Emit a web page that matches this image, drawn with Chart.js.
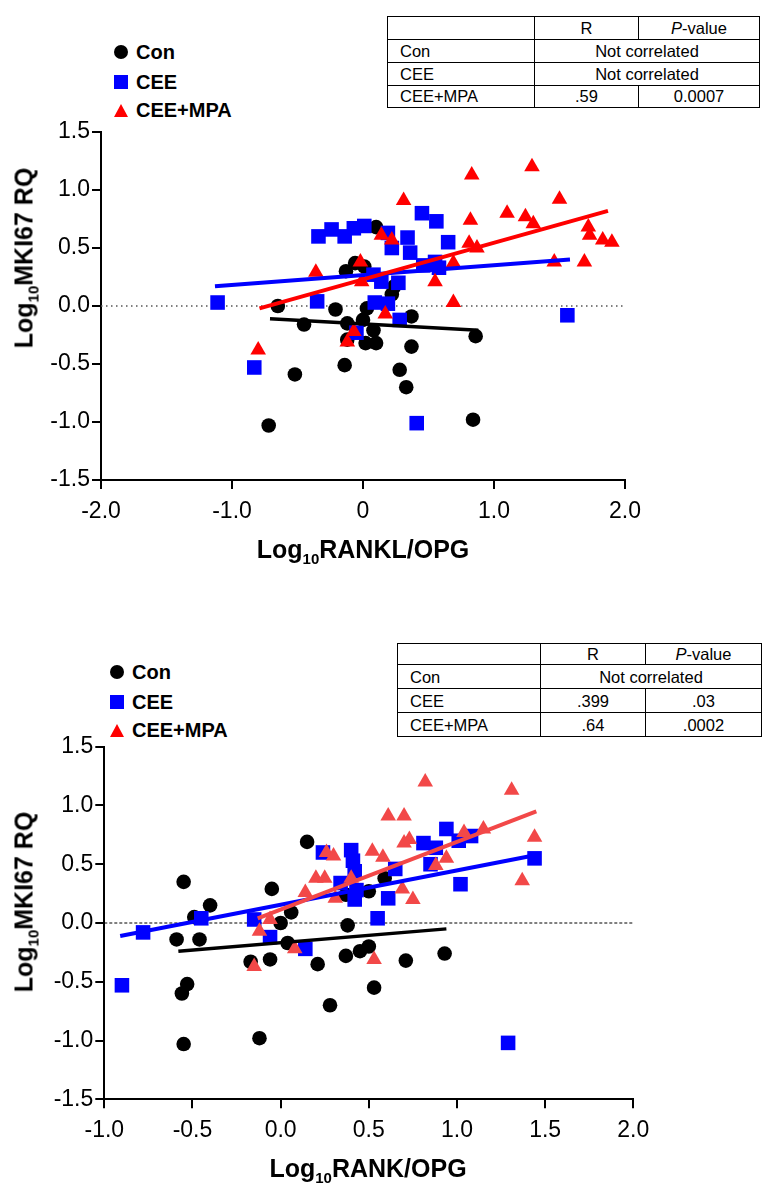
<!DOCTYPE html>
<html>
<head>
<meta charset="utf-8">
<script src="https://cdn.jsdelivr.net/npm/chart.js@4.4.1/dist/chart.umd.min.js"></script>
<style>
body{margin:0;width:763px;height:1191px;position:relative;overflow:hidden;background:#fff;color:#000;font-family:"Liberation Sans",Arial,Helvetica,sans-serif}
canvas{position:absolute;left:0}
.lg{position:absolute;height:20px;display:flex;align-items:center;font-weight:bold;font-size:20px;line-height:20px;white-space:nowrap}
.lg i{display:inline-block;margin-right:8px}
.dot{width:14px;height:14px;border-radius:50%;background:#000}
.sq{width:14px;height:14px;background:#0000ff}
.tri{width:0;height:0;border-left:7.5px solid transparent;border-right:7.5px solid transparent;border-bottom:13px solid #ff0000}
table{position:absolute;border-collapse:collapse;font-size:16.5px;table-layout:fixed}
td{border:1.5px solid #000;padding:0;text-align:center;white-space:nowrap;line-height:18px}
td.n{text-align:left;padding-left:12px}
.xt{position:absolute;font-weight:bold;font-size:25px;white-space:nowrap;transform:translate(-50%,-50%)}
.yt{position:absolute;font-weight:bold;font-size:25px;white-space:nowrap;transform:translate(-50%,-50%) rotate(-90deg)}
sub{font-size:15px;vertical-align:-6px;line-height:0}
</style>
</head>
<body>

<div class="lg" style="left:114px;top:42px"><i class="dot"></i>Con</div>
<div class="lg" style="left:114px;top:72px"><i class="sq"></i>CEE</div>
<div class="lg" style="left:114px;top:100px"><i class="tri"></i>CEE+MPA</div>

<table style="left:387px;top:16px;width:372px">
<colgroup><col style="width:147px"><col style="width:104px"><col style="width:121px"></colgroup>
<tr style="height:22.5px"><td></td><td>R</td><td><i>P</i>-value</td></tr>
<tr style="height:23px"><td class="n">Con</td><td colspan="2">Not correlated</td></tr>
<tr style="height:23px"><td class="n">CEE</td><td colspan="2">Not correlated</td></tr>
<tr style="height:22.5px"><td class="n">CEE+MPA</td><td>.59</td><td>0.0007</td></tr>
</table>

<canvas id="top" width="763" height="460" style="top:110px"></canvas>
<div class="yt" style="left:24px;top:258px">Log<sub>10</sub>MKI67 RQ</div>
<div class="xt" style="left:363px;top:549px">Log<sub>10</sub>RANKL/OPG</div>

<div class="lg" style="left:110px;top:662px"><i class="dot"></i>Con</div>
<div class="lg" style="left:110px;top:692px"><i class="sq"></i>CEE</div>
<div class="lg" style="left:110px;top:720px"><i class="tri"></i>CEE+MPA</div>

<table style="left:397px;top:643px;width:364px">
<colgroup><col style="width:143px"><col style="width:105px"><col style="width:116px"></colgroup>
<tr style="height:21px"><td></td><td>R</td><td><i>P</i>-value</td></tr>
<tr style="height:24px"><td class="n">Con</td><td colspan="2">Not correlated</td></tr>
<tr style="height:24px"><td class="n">CEE</td><td>.399</td><td>.03</td></tr>
<tr style="height:24px"><td class="n">CEE+MPA</td><td>.64</td><td>.0002</td></tr>
</table>

<canvas id="bottom" width="763" height="466" style="top:725px"></canvas>
<div class="yt" style="left:24px;top:902px">Log<sub>10</sub>MKI67 RQ</div>
<div class="xt" style="left:368px;top:1168px">Log<sub>10</sub>RANK/OPG</div>

<script>
// ---- top panel: Log10 RANKL/OPG vs Log10 MKI67 RQ
const topCon = [[-0.72,-1.03],[-0.65,0.00],[-0.52,-0.59],[-0.45,-0.16],[-0.21,-0.03],[-0.14,-0.51],
  [-0.13,0.30],[-0.12,-0.15],[-0.12,-0.29],[-0.06,0.37],[0.00,-0.12],[0.01,0.34],[0.03,-0.02],
  [0.02,-0.32],[0.08,-0.21],[0.10,-0.32],[0.10,0.68],[0.22,0.10],[0.24,0.17],[0.28,-0.55],
  [0.33,-0.70],[0.37,-0.09],[0.37,-0.35],[0.84,-0.98],[0.86,-0.26]];
const topCee = [[-1.11,0.03],[-0.83,-0.53],[-0.35,0.04],[-0.34,0.60],[-0.24,0.66],[-0.14,0.60],
  [-0.07,0.67],[0.01,0.69],[0.19,0.63],[0.22,0.50],[0.08,0.27],[0.14,0.21],[0.27,0.20],[0.09,0.03],
  [0.19,0.02],[0.28,-0.12],[-0.05,-0.23],[0.34,0.59],[0.36,0.46],[0.45,0.80],[0.56,0.73],[0.65,0.55],
  [0.46,0.35],[0.55,0.38],[0.58,0.33],[0.41,-1.01],[1.56,-0.08]];
const topMpa = [[-0.80,-0.38],[-0.36,0.29],[-0.12,-0.31],[-0.07,-0.22],[-0.02,0.38],[-0.01,0.21],
  [0.14,0.61],[0.22,0.57],[0.17,-0.07],[0.31,0.91],[0.55,0.21],[0.69,0.37],[0.69,0.03],[0.81,0.54],
  [0.87,0.50],[0.82,0.74],[0.83,1.13],[1.10,0.80],[1.24,0.77],[1.29,1.20],[1.30,0.71],[1.46,0.38],
  [1.50,0.92],[1.69,0.38],[1.72,0.68],[1.73,0.61],[1.83,0.57],[1.90,0.55]];
const topConFit = [[-0.71,-0.11],[0.88,-0.21]];
const topCeeFit = [[-1.13,0.17],[1.58,0.40]];
const topMpaFit = [[-0.79,-0.02],[1.87,0.82]];
const topXTicks = [-2, -1, 0, 1, 2];
const topXLabels = ["-2.0", "-1.0", "0", "1.0", "2.0"];

// ---- bottom panel: Log10 RANK/OPG vs Log10 MKI67 RQ
const botCon = [[-0.40,0.15],[-0.49,0.05],[-0.55,0.35],[-0.59,-0.14],[-0.46,-0.14],[-0.53,-0.52],
  [-0.56,-0.60],[-0.55,-1.03],[-0.12,-0.98],[-0.17,-0.33],[-0.06,-0.31],[0.00,0.00],[0.06,0.09],
  [-0.05,0.29],[0.04,-0.17],[0.21,-0.35],[0.28,-0.70],[0.38,-0.02],[0.37,-0.28],[0.45,-0.24],
  [0.50,-0.20],[0.53,-0.55],[0.71,-0.32],[0.93,-0.26],[0.15,0.69],[0.37,0.24],[0.50,0.27],[0.59,0.38]];
const botCee = [[-0.90,-0.53],[-0.78,-0.08],[-0.45,0.04],[-0.15,0.03],[-0.06,-0.12],[0.14,-0.22],
  [0.55,0.04],[1.29,-1.02],[0.24,0.60],[0.40,0.62],[0.41,0.53],[0.42,0.44],[0.34,0.34],[0.43,0.28],
  [0.42,0.20],[0.61,0.21],[0.94,0.80],[1.08,0.74],[1.01,0.70],[0.81,0.68],[0.88,0.64],[0.85,0.50],
  [0.65,0.46],[1.44,0.55],[1.02,0.33]];
const botMpa = [[-0.15,-0.37],[-0.12,-0.07],[-0.06,0.03],[0.08,-0.22],[0.53,-0.31],[0.14,0.26],
  [0.20,0.38],[0.25,0.38],[0.26,0.60],[0.30,0.57],[0.31,0.21],[0.40,0.38],[0.52,0.61],[0.58,0.56],
  [0.61,0.91],[0.70,0.91],[0.82,1.20],[1.31,1.13],[0.70,0.68],[0.73,0.71],[1.04,0.77],[1.15,0.80],
  [1.44,0.73],[0.94,0.55],[0.88,0.49],[1.37,0.36],[0.69,0.29],[0.75,0.20]];
const botConFit = [[-0.58,-0.24],[0.94,-0.05]];
const botCeeFit = [[-0.91,-0.11],[1.42,0.57]];
const botMpaFit = [[-0.13,0.04],[1.45,0.95]];
const botXTicks = [-1, -0.5, 0, 0.5, 1, 1.5, 2];
const botXLabels = ["-1.0", "-0.5", "0.0", "0.5", "1.0", "1.5", "2.0"];

const yTicks = [-1.5, -1, -0.5, 0, 0.5, 1, 1.5];
const yLabels = ["-1.5", "-1.0", "-0.5", "0.0", "0.5", "1.0", "1.5"];

const FONT = '"Liberation Sans", Arial, Helvetica, sans-serif';

function pts(arr) {
	return arr.map((p) => ({ x: p[0], y: p[1] }));
}

function scatterSet(arr, style, color, radius, order) {
	return {
		data: pts(arr),
		pointStyle: style,
		pointRadius: radius,
		pointBackgroundColor: color,
		pointBorderWidth: 0,
		showLine: false,
		clip: false,
		order: order,
	};
}

function lineSet(arr, color, width, dash, order) {
	return {
		data: pts(arr),
		showLine: true,
		borderColor: color,
		borderWidth: width,
		borderDash: dash || [],
		pointRadius: 0,
		clip: false,
		order: order,
	};
}

function makeChart(canvas, cfg) {
	return new Chart(canvas, {
		type: "scatter",
		data: { datasets: cfg.datasets },
		options: {
			responsive: false,
			animation: false,
			events: [],
			layout: { padding: cfg.padding },
			plugins: { legend: { display: false }, tooltip: { enabled: false } },
			scales: {
				x: {
					type: "linear",
					min: cfg.xTicks[0],
					max: cfg.xTicks[cfg.xTicks.length - 1],
					afterBuildTicks: (s) => { s.ticks = cfg.xTicks.map((v) => ({ value: v })); },
					afterFit: (s) => { s.height = cfg.xHeight; },
					ticks: {
						callback: (v, i) => cfg.xLabels[i],
						color: "#000",
						font: { size: 23, family: FONT },
						padding: 9,
						maxRotation: 0,
						autoSkip: false,
					},
					grid: { drawOnChartArea: false, drawTicks: true, tickLength: 9, color: "#000", lineWidth: 2 },
					border: { display: true, color: "#000", width: 2 },
				},
				y: {
					type: "linear",
					min: -1.5,
					max: 1.5,
					afterBuildTicks: (s) => { s.ticks = yTicks.map((v) => ({ value: v })); },
					afterFit: (s) => { s.width = cfg.yWidth; },
					ticks: {
						callback: (v, i) => yLabels[i],
						color: "#000",
						font: { size: 23, family: FONT },
						padding: 2,
						autoSkip: false,
					},
					grid: { drawOnChartArea: false, drawTicks: true, tickLength: 9, color: "#000", lineWidth: 2 },
					border: { display: true, color: "#000", width: 2 },
				},
			},
		},
	});
}

makeChart(document.getElementById("top"), {
	padding: { top: 22, right: 138, bottom: 0, left: 0 },
	xHeight: 90,
	yWidth: 101,
	xTicks: topXTicks,
	xLabels: topXLabels,
	datasets: [
		lineSet(topMpaFit, "#ff0000", 4, null, 0),
		lineSet(topCeeFit, "#0000ff", 4, null, 0),
		lineSet(topConFit, "#000000", 3.5, null, 0),
		scatterSet(topMpa, "triangle", "#ff0000", 9, 1),
		scatterSet(topCee, "rect", "#0000ff", 10.3, 2),
		scatterSet(topCon, "circle", "#000000", 7.3, 3),
		lineSet([[-2, 0], [2, 0]], "#555555", 1.5, [1.5, 3.5], 4),
	],
});

makeChart(document.getElementById("bottom"), {
	padding: { top: 21.7, right: 129.7, bottom: 0, left: 0 },
	xHeight: 91.7,
	yWidth: 104.3,
	xTicks: botXTicks,
	xLabels: botXLabels,
	datasets: [
		lineSet(botMpaFit, "#f24848", 4, null, 0),
		lineSet(botCeeFit, "#0000ff", 4, null, 0),
		lineSet(botConFit, "#000000", 3.5, null, 0),
		scatterSet(botMpa, "triangle", "#f24848", 9, 1),
		scatterSet(botCee, "rect", "#0000ff", 10.3, 2),
		scatterSet(botCon, "circle", "#000000", 7.3, 3),
		lineSet([[-1, 0], [2, 0]], "#000000", 1, [3, 2], 4),
	],
});
</script>
</body>
</html>
